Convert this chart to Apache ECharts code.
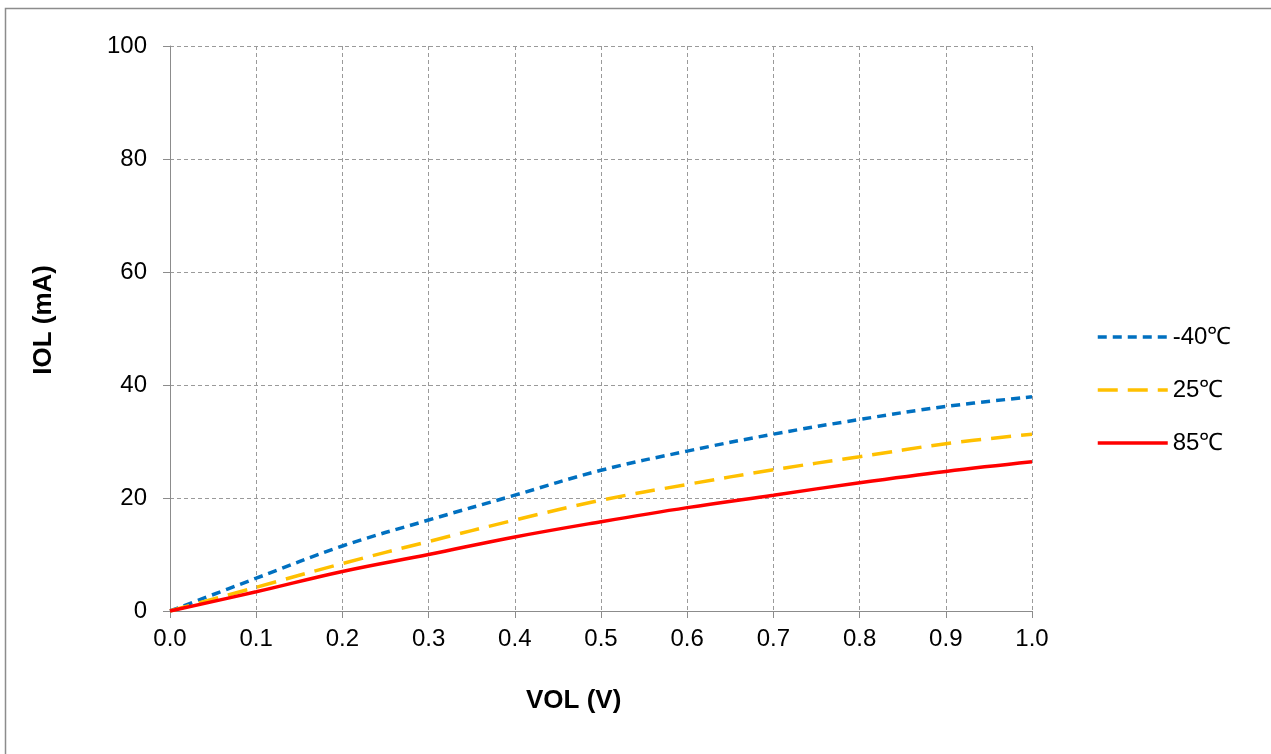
<!DOCTYPE html>
<html>
<head>
<meta charset="utf-8">
<script src="https://cdn.jsdelivr.net/npm/echarts@6/dist/echarts.min.js"></script>
<style>
  html, body { margin: 0; padding: 0; background: #fff; }
  #main { width: 1271px; height: 754px; }
</style>
</head>
<body>
<div id="main"></div>
<script>
// 横坐标 VOL (V)
var vol = [0.0, 0.1, 0.2, 0.3, 0.4, 0.5, 0.6, 0.7, 0.8, 0.9, 1.0];
// IOL (mA) 各温度
var iolM40 = [0, 5.8, 11.5, 16.1, 20.5, 24.9, 28.3, 31.3, 33.9, 36.2, 37.9];
var iol25 = [0, 4.2, 8.4, 12.3, 16.1, 19.6, 22.4, 25.0, 27.3, 29.6, 31.3];
var iol85 = [0, 3.4, 7.0, 10.0, 13.1, 15.8, 18.3, 20.5, 22.7, 24.7, 26.4];
var seriesNames = ['-40℃', '25℃', '85℃'];

var font = 'Liberation Sans, Arial, sans-serif';

function pairs(ys) {
  var out = [];
  for (var i = 0; i < vol.length; i++) {
    out.push([vol[i], ys[i]]);
  }
  return out;
}

var myChart = echarts.init(document.getElementById('main'));
var option = {
  animation: false,
  backgroundColor: '#fff',
  grid: { left: 170, right: 239, top: 46, bottom: 143 },
  graphic: [
    {
      type: 'rect',
      shape: { x: 5.5, y: 8.5, width: 1300, height: 800 },
      style: { fill: 'none', stroke: '#8c8c8c', lineWidth: 1.5 },
      silent: true
    },
    {
      type: 'text', left: 526, top: 688,
      style: { text: 'VOL (V)', font: 'bold 26px ' + font, fill: '#000' }
    },
    {
      type: 'text', left: 31, top: 265, rotation: Math.PI / 2,
      style: { text: 'IOL (mA)', font: 'bold 26px ' + font, fill: '#000' }
    }
  ],
  legend: {
    orient: 'vertical',
    left: 1091,
    top: 320,
    itemWidth: 70,
    itemHeight: 14,
    itemGap: 29,
    itemStyle: { opacity: 0, borderWidth: 0 },
    lineStyle: { width: 3.5 },
    textStyle: { fontFamily: font, fontSize: 24, color: '#000' },
    data: seriesNames
  },
  xAxis: {
    type: 'value',
    min: 0, max: 1, interval: 0.1,
    axisLine: { lineStyle: { color: '#8c8c8c', width: 1 } },
    axisTick: { show: true, length: 7, lineStyle: { color: '#8c8c8c' } },
    axisLabel: {
      margin: 16, fontFamily: font, fontSize: 24, color: '#000',
      formatter: function (v) { return v.toFixed(1); }
    },
    splitLine: { show: true, lineStyle: { color: '#9a9a9a', type: [4, 3], width: 1 } }
  },
  yAxis: {
    type: 'value',
    min: 0, max: 100, interval: 20,
    axisLine: { show: true, lineStyle: { color: '#8c8c8c', width: 1 } },
    axisTick: { show: true, length: 7, lineStyle: { color: '#8c8c8c' } },
    axisLabel: { margin: 23, fontFamily: font, fontSize: 24, color: '#000' },
    splitLine: { show: true, lineStyle: { color: '#9a9a9a', type: [4, 3], width: 1 } }
  },
  series: [
    {
      name: seriesNames[0], type: 'line', smooth: 0.4, symbol: 'none',
      data: pairs(iolM40),
      itemStyle: { color: '#0070C0' },
      lineStyle: { color: '#0070C0', width: 3.5, type: [9, 6] }
    },
    {
      name: seriesNames[1], type: 'line', smooth: 0.4, symbol: 'none',
      data: pairs(iol25),
      itemStyle: { color: '#FFC000' },
      lineStyle: { color: '#FFC000', width: 3.5, type: [20, 10] }
    },
    {
      name: seriesNames[2], type: 'line', smooth: 0.4, symbol: 'none',
      data: pairs(iol85),
      itemStyle: { color: '#FF0000' },
      lineStyle: { color: '#FF0000', width: 3.5 }
    }
  ]
};
myChart.setOption(option);
</script>
</body>
</html>
